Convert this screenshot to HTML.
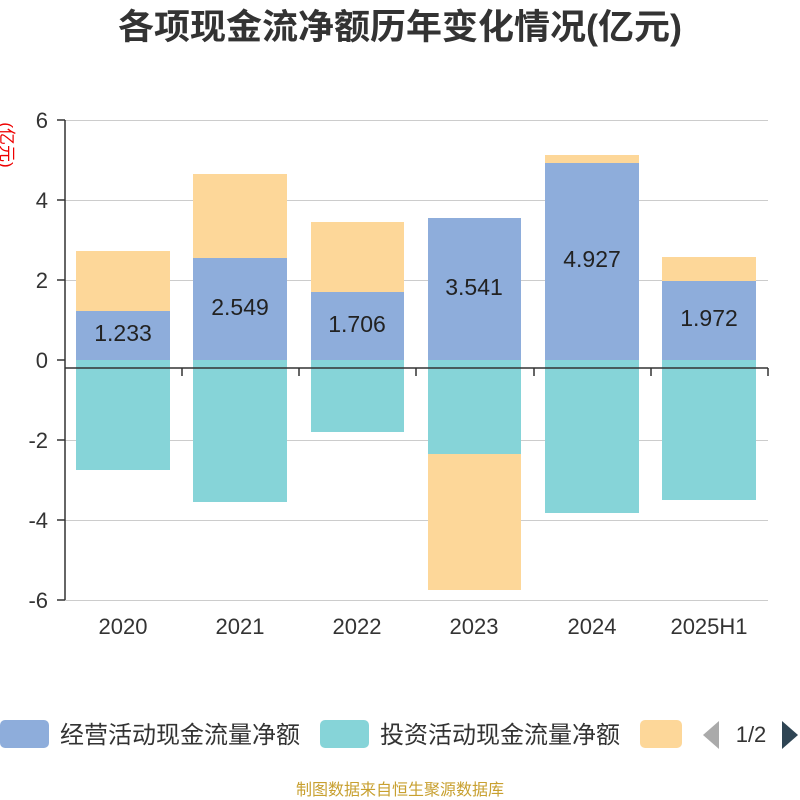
<!DOCTYPE html>
<html><head><meta charset="utf-8"><style>body{margin:0;background:#fff}svg{display:block}text{font-family:"Liberation Sans","Noto Sans CJK SC",sans-serif}</style></head>
<body>
<svg width="800" height="800" xmlns="http://www.w3.org/2000/svg">
<text x="400" y="39" text-anchor="middle" font-size="35" font-weight="bold" fill="#333" textLength="564" lengthAdjust="spacingAndGlyphs">各项现金流净额历年变化情况(亿元)</text>
<text transform="translate(1,145) rotate(90)" text-anchor="middle" font-size="17" fill="#e00">(亿元)</text>
<g stroke="#ccc" stroke-width="1">
<line x1="65" y1="120.5" x2="768" y2="120.5"/><line x1="65" y1="200.5" x2="768" y2="200.5"/><line x1="65" y1="280.5" x2="768" y2="280.5"/><line x1="65" y1="440.5" x2="768" y2="440.5"/><line x1="65" y1="520.5" x2="768" y2="520.5"/><line x1="65" y1="600.5" x2="768" y2="600.5"/>
</g>
<g font-size="22" fill="#333" text-anchor="end">
<text x="48" y="128">6</text><text x="48" y="208">4</text><text x="48" y="288">2</text><text x="48" y="368">0</text><text x="48" y="448">-2</text><text x="48" y="528">-4</text><text x="48" y="608">-6</text>
</g>
<g>
<rect x="76" y="251" width="94" height="60" fill="#fdd799"/><rect x="76" y="311" width="94" height="49" fill="#8eaddb"/><rect x="76" y="360" width="94" height="110" fill="#86d4d8"/>
<rect x="193" y="174" width="94" height="84" fill="#fdd799"/><rect x="193" y="258" width="94" height="102" fill="#8eaddb"/><rect x="193" y="360" width="94" height="142" fill="#86d4d8"/>
<rect x="311" y="222" width="93" height="70" fill="#fdd799"/><rect x="311" y="292" width="93" height="68" fill="#8eaddb"/><rect x="311" y="360" width="93" height="72" fill="#86d4d8"/>
<rect x="428" y="218" width="93" height="142" fill="#8eaddb"/><rect x="428" y="360" width="93" height="94" fill="#86d4d8"/><rect x="428" y="454" width="93" height="136" fill="#fdd799"/>
<rect x="545" y="155" width="94" height="8" fill="#fdd799"/><rect x="545" y="163" width="94" height="197" fill="#8eaddb"/><rect x="545" y="360" width="94" height="153" fill="#86d4d8"/>
<rect x="662" y="257" width="94" height="24" fill="#fdd799"/><rect x="662" y="281" width="94" height="79" fill="#8eaddb"/><rect x="662" y="360" width="94" height="140" fill="#86d4d8"/>
</g>
<g font-size="23" fill="#222" text-anchor="middle">
<text x="123" y="341">1.233</text><text x="240" y="315">2.549</text><text x="357" y="332">1.706</text><text x="474" y="295">3.541</text><text x="592" y="267">4.927</text><text x="709" y="326">1.972</text>
</g>
<g stroke="#333" stroke-width="1.5">
<line x1="65" y1="120" x2="65" y2="600"/>
<line x1="57" y1="120" x2="65" y2="120"/><line x1="57" y1="200" x2="65" y2="200"/><line x1="57" y1="280" x2="65" y2="280"/><line x1="57" y1="360" x2="65" y2="360"/><line x1="57" y1="440" x2="65" y2="440"/><line x1="57" y1="520" x2="65" y2="520"/><line x1="57" y1="600" x2="65" y2="600"/>
<line x1="65" y1="368" x2="768" y2="368"/>
<line x1="182" y1="368" x2="182" y2="376"/><line x1="299" y1="368" x2="299" y2="376"/><line x1="416" y1="368" x2="416" y2="376"/><line x1="534" y1="368" x2="534" y2="376"/><line x1="651" y1="368" x2="651" y2="376"/><line x1="768" y1="368" x2="768" y2="376"/>
</g>
<g font-size="22" fill="#333" text-anchor="middle">
<text x="123" y="634">2020</text><text x="240" y="634">2021</text><text x="357" y="634">2022</text><text x="474" y="634">2023</text><text x="592" y="634">2024</text><text x="709" y="634">2025H1</text>
</g>
<rect x="0" y="720" width="49" height="28" rx="5" fill="#8eaddb"/>
<text x="60" y="743" font-size="24" fill="#333">经营活动现金流量净额</text>
<rect x="320" y="720" width="49" height="28" rx="5" fill="#86d4d8"/>
<text x="380" y="743" font-size="24" fill="#333">投资活动现金流量净额</text>
<rect x="640" y="720" width="42" height="28" rx="5" fill="#fdd799"/>
<polygon points="719,721 719,749 703,735" fill="#aaa"/>
<text x="751" y="742" font-size="22" fill="#333" text-anchor="middle">1/2</text>
<polygon points="782,721 782,749 798,735" fill="#2f4554"/>
<text x="400" y="795" font-size="16" fill="#c8a030" text-anchor="middle">制图数据来自恒生聚源数据库</text>
</svg>
</body></html>
